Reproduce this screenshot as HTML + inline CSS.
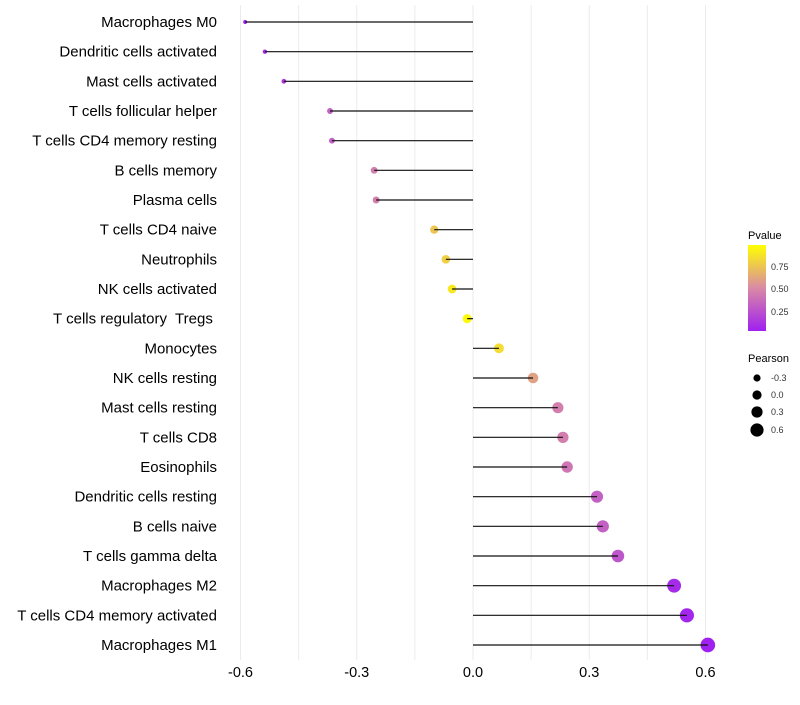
<!DOCTYPE html>
<html><head><meta charset="utf-8"><style>
body{margin:0;background:#fff;font-family:"Liberation Sans",sans-serif;}
text{white-space:pre;}
</style></head><body>
<svg id="chart" width="800" height="700" xmlns="http://www.w3.org/2000/svg">
<g id="grid"></g>
<g id="marks"></g>
<g id="ylabels"></g>
<g id="xlabels"></g>
<g id="legend">
 <defs><linearGradient id="pg" x1="0" y1="1" x2="0" y2="0">
  <stop offset="0" stop-color="#a020f0"/><stop offset="0.5" stop-color="#d98aa5"/><stop offset="1" stop-color="#ffff00"/>
 </linearGradient></defs>
 <text x="748" y="239" font-size="11">Pvalue</text>
 <rect x="748" y="245" width="18" height="86" fill="url(#pg)"/>
 <text x="771" y="270" font-size="9" fill="#333">0.75</text>
 <text x="771" y="292" font-size="9" fill="#333">0.50</text>
 <text x="771" y="315" font-size="9" fill="#333">0.25</text>
 <text x="748" y="362" font-size="11">Pearson</text>
 <circle cx="757" cy="378" r="3.6" fill="#000"/><text x="771" y="381" font-size="9" fill="#333">-0.3</text>
 <circle cx="757" cy="395" r="4.6" fill="#000"/><text x="771" y="398" font-size="9" fill="#333">0.0</text>
 <circle cx="757" cy="412" r="5.6" fill="#000"/><text x="771" y="415" font-size="9" fill="#333">0.3</text>
 <circle cx="757" cy="430" r="6.6" fill="#000"/><text x="771" y="433" font-size="9" fill="#333">0.6</text>
</g>
</svg>
<script>
const categories=["Macrophages M0","Dendritic cells activated","Mast cells activated","T cells follicular helper","T cells CD4 memory resting","B cells memory","Plasma cells","T cells CD4 naive","Neutrophils","NK cells activated","T cells regulatory  Tregs ","Monocytes","NK cells resting","Mast cells resting","T cells CD8","Eosinophils","Dendritic cells resting","B cells naive","T cells gamma delta","Macrophages M2","T cells CD4 memory activated","Macrophages M1"];
const pearson=[-0.588,-0.537,-0.488,-0.369,-0.364,-0.255,-0.250,-0.100,-0.070,-0.054,-0.015,0.067,0.155,0.219,0.232,0.243,0.320,0.335,0.374,0.519,0.552,0.606];
const pvalue=[0.0,0.05,0.1,0.3,0.3,0.45,0.45,0.75,0.8,0.9,0.98,0.85,0.6,0.45,0.45,0.4,0.3,0.3,0.25,0.05,0.03,0.0];
const xTicks=[-0.6,-0.3,0.0,0.3,0.6];
const xTickLabels=["-0.6","-0.3","0.0","0.3","0.6"];
const NS="http://www.w3.org/2000/svg";
function xs(v){return 473+v*(232.5/0.6);}
function ys(i){return 22+i*(623/21);}
function rs(v){return 4.6+4.5*v;}
function col(p){
 const st=[[0,[160,32,240]],[0.5,[217,138,165]],[1,[255,255,0]]];
 let a=st[0],b=st[1];if(p>0.5){a=st[1];b=st[2];}
 const t=(p-a[0])/(b[0]-a[0]);
 const c=a[1].map((x,k)=>Math.round(x+(b[1][k]-x)*t));
 return `rgb(${c[0]},${c[1]},${c[2]})`;
}
function mk(tag,attrs,parent){const e=document.createElementNS(NS,tag);for(const k in attrs)e.setAttribute(k,attrs[k]);parent.appendChild(e);return e;}
const grid=document.getElementById('grid'),marks=document.getElementById('marks'),yl=document.getElementById('ylabels'),xl=document.getElementById('xlabels');
for(let v=-0.6;v<=0.61;v+=0.15){
 const g=mk('line',{x1:xs(v),x2:xs(v),y1:5,y2:660,stroke:'#ebebeb','stroke-width':1},grid);
 
 
}
xTicks.forEach((v,i)=>{
 const t=mk('text',{x:xs(v),y:677,'font-size':14.5,'text-anchor':'middle',fill:'#000'},xl);
 t.textContent=xTickLabels[i];
 
 
});
categories.forEach((c,i)=>{
 const y=ys(i);
 const p=mk('circle',{cx:xs(pearson[i]),cy:y,r:rs(pearson[i]),fill:col(pvalue[i])},marks);
 
 
 const l=mk('line',{x1:xs(0),x2:xs(pearson[i]),y1:y,y2:y,stroke:'#111','stroke-width':1.2},marks);
 
 
 const t=mk('text',{x:217,y:y+5,'font-size':15,'text-anchor':'end',fill:'#000'},yl);
 t.textContent=c;
 
 
});
</script>
</body></html>
